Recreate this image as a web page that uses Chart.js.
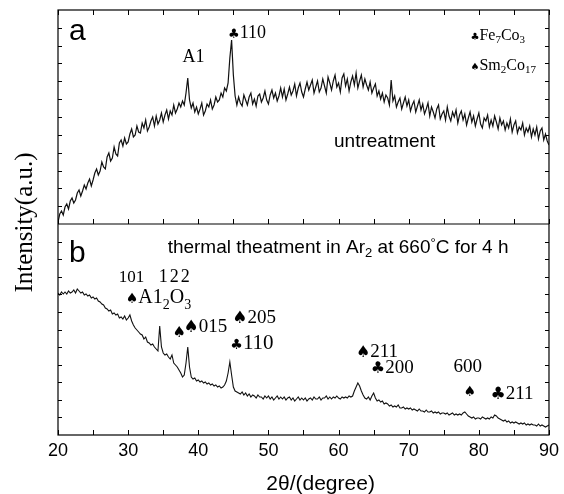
<!DOCTYPE html>
<html><head><meta charset="utf-8">
<script src="https://cdn.jsdelivr.net/npm/chart.js@4.4.1/dist/chart.umd.min.js"></script>
<style>html,body{margin:0;padding:0;background:#fff;}#wrap{width:564px;height:494px;}</style>
</head><body><div id="wrap"><canvas id="c" width="564" height="494"></canvas></div>
<script>
// ---- data (2θ sampling grid: start 20°, step 0.25°) ----
const twoThetaStart = 20;
const twoThetaStep = 0.25;
// (a) untreatment, arbitrary intensity units (four values per degree)
const untreated = [
2,10,13,9, 17,20,15,23, 26,21,24,31, 34,28,33,39, 35,41,45,38,
44,51,55,49, 53,62,57,55, 67,71,63,66, 77,70,68,81, 84,78,86,80,
82,90,95,87, 89,98,92,91, 101,96,104,93, 97,103,107,98, 108,100,104,111,
102,109,114,105, 113,109,119,111, 115,121,117,123, 119,131,146,124, 116,121,112,117,
110,115,121,109, 113,120,117,124, 115,119,127,122, 124,131,127,136, 133,141,166,184,
149,128,119,127, 121,118,129,124, 119,127,131,120, 125,118,128,130, 122,126,133,124,
120,129,134,126, 131,123,128,136, 127,135,124,130, 137,129,133,140, 128,136,141,132,
127,135,142,134, 139,144,131,137, 143,132,136,145, 138,131,147,141, 134,143,149,137,
141,132,146,150, 138,145,133,142, 148,139,151,136, 143,149,137,145, 139,134,142,131,
136,140,128,133, 125,131,122,129, 126,119,144,123, 128,117,122,126, 115,121,127,118,
124,113,119,123, 112,118,124,114, 120,110,115,121, 108,117,112,106, 115,119,105,110,
113,104,117,108, 103,112,107,114, 101,109,113,104, 110,99,106,112, 102,108,98,105,
111,100,96,106, 103,109,97,104, 98,108,102,95, 106,99,103,94, 101,96,105,92,
99,103,91,97, 94,101,89,96, 92,98,87,95, 89,97,85,93, 96,84,90,83,
79
];
// (b) thermal treatment in Ar2 at 660 °C for 4 h
const treated = [
142,140,143,141, 143,141,144,142, 143,145,142,146, 144,142,143,140, 141,139,140,137,
138,136,137,134, 133,131,130,127, 126,124,125,121, 122,120,121,117, 118,116,119,115,
117,120,114,110, 107,105,103,101, 100,96,98,93, 92,90,91,88, 86,84,109,88,
82,80,81,78, 76,80,72,70, 68,65,62,58, 60,72,88,68, 58,56,57,54,
55,53,54,52, 53,51,52,50, 51,49,50,48, 49,47,48,50, 54,62,73,60,
48,44,43,42, 41,43,40,42, 39,41,38,40, 39,37,40,38, 38,36,39,37,
39,36,38,35, 37,39,36,38, 36,38,35,37, 38,35,37,34, 36,38,35,37,
35,37,34,36, 37,35,38,36, 36,38,35,37, 37,39,36,38, 36,38,37,39,
37,36,38,37, 38,37,39,38, 39,44,48,52, 49,44,40,37, 36,38,35,39,
42,37,34,35, 33,34,31,32, 31,29,30,28, 29,28,30,27, 27,28,26,27,
26,27,25,26, 25,24,26,24, 24,23,25,23, 23,24,22,23, 22,23,21,22,
22,21,22,20, 21,22,20,21, 20,21,20,22, 23,21,19,18, 17,18,16,17,
17,16,18,17, 16,17,16,18, 17,20,19,17, 16,15,14,15, 13,14,12,13,
12,13,12,11, 12,11,12,10, 11,10,11,10, 10,9,11,9, 10,9,8,9,
10
];
const xTickLabels = [20, 30, 40, 50, 60, 70, 80, 90];
const xMin = 20, xMax = 90;

// ---- fonts / helpers ----
const SERIF = '"Liberation Serif","Times New Roman",serif';
const SANS = '"Liberation Sans",Arial,sans-serif';
const SYM = '"DejaVu Sans",sans-serif';

const toPoints = arr => arr.map((v, i) => ({ x: twoThetaStart + i * twoThetaStep, y: v }));

// text labels: panel axis, anchor (2θ, intensity), rich segments
const labels = [
  { ax: 'ya', x: 21.56, y: 184, segs: [{ t: 'a', f: '30px ' + SANS }] },
  { ax: 'ya', x: 37.76, y: 162, segs: [{ t: 'A1', f: '18px ' + SERIF }] },
  { ax: 'ya', x: 44.25, y: 186, segs: [{ t: '♣', f: '13px ' + SYM }, { t: '110', f: '18px ' + SERIF }] },
  { ax: 'ya', x: 78.8, y: 184, segs: [{ t: '♣', f: '10px ' + SYM }, { t: 'Fe', f: '16px ' + SERIF }, { t: '7', f: '11px ' + SERIF, dy: 3 }, { t: 'Co', f: '16px ' + SERIF }, { t: '3', f: '11px ' + SERIF, dy: 3 }] },
  { ax: 'ya', x: 78.8, y: 154, segs: [{ t: '♠', f: '10px ' + SYM }, { t: 'Sm', f: '16px ' + SERIF }, { t: '2', f: '11px ' + SERIF, dy: 3 }, { t: 'Co', f: '16px ' + SERIF }, { t: '17', f: '11px ' + SERIF, dy: 3 }] },
  { ax: 'ya', x: 59.35, y: 77, segs: [{ t: 'untreatment', f: '19px ' + SANS }] },

  { ax: 'yb', x: 21.56, y: 173, segs: [{ t: 'b', f: '30px ' + SANS }] },
  { ax: 'yb', x: 35.63, y: 182, segs: [{ t: 'thermal theatment in Ar', f: '19px ' + SANS }, { t: '2', f: '13px ' + SANS, dy: 4 }, { t: ' at 660', f: '19px ' + SANS }, { t: '°', f: '13px ' + SANS, dy: -6 }, { t: 'C for 4 h', f: '19px ' + SANS }] },
  { ax: 'yb', x: 28.66, y: 153, segs: [{ t: '101', f: '17px ' + SERIF }] },
  { ax: 'yb', x: 34.35, y: 153, segs: [{ t: '1', f: '18px ' + SERIF, gap: 2 }, { t: '2', f: '18px ' + SERIF, gap: 2 }, { t: '2', f: '18px ' + SERIF }] },
  { ax: 'yb', x: 29.66, y: 132, segs: [{ t: '♠', f: '14px ' + SYM }, { t: 'A1', f: '20px ' + SERIF }, { t: '2', f: '14px ' + SERIF, dy: 6 }, { t: 'O', f: '20px ' + SERIF }, { t: '3', f: '14px ' + SERIF, dy: 6 }] },
  { ax: 'yb', x: 36.33, y: 98, segs: [{ t: '♠', f: '15px ' + SYM }] },
  { ax: 'yb', x: 37.9, y: 103, segs: [{ t: '♠', f: '17px ' + SYM }, { t: '015', f: '19px ' + SERIF }] },
  { ax: 'yb', x: 44.86, y: 112, segs: [{ t: '♠', f: '17px ' + SYM }, { t: '205', f: '19px ' + SERIF }] },
  { ax: 'yb', x: 44.57, y: 86, segs: [{ t: '♣', f: '14px ' + SYM }, { t: '110', f: '21px ' + SERIF }] },
  { ax: 'yb', x: 62.47, y: 78, segs: [{ t: '♠', f: '16px ' + SYM }, { t: '211', f: '19px ' + SERIF }] },
  { ax: 'yb', x: 64.6, y: 62, segs: [{ t: '♣', f: '16px ' + SYM }, { t: '200', f: '19px ' + SERIF }] },
  { ax: 'yb', x: 76.4, y: 63, segs: [{ t: '600', f: '19px ' + SERIF }] },
  { ax: 'yb', x: 77.8, y: 39, segs: [{ t: '♠', f: '14px ' + SYM }] },
  { ax: 'yb', x: 81.65, y: 36, segs: [{ t: '♣', f: '17px ' + SYM }, { t: '211', f: '19px ' + SERIF }] }
];

function drawRich(ctx, x, y, segs) {
  let cx = x;
  for (const s of segs) {
    ctx.font = s.f;
    ctx.fillText(s.t, cx, y + (s.dy || 0));
    cx += ctx.measureText(s.t).width + (s.gap || 0);
  }
}

const framePlugin = {
  id: 'frame',
  afterDatasetsDraw(chart) {
    const ctx = chart.ctx;
    const a = chart.chartArea;
    const xs = chart.scales.x, ya = chart.scales.ya, yb = chart.scales.yb;
    const mid = ya.getPixelForValue(0);
    ctx.save();
    ctx.strokeStyle = '#000';
    ctx.lineWidth = 1.2;
    ctx.strokeRect(a.left, a.top, a.right - a.left, a.bottom - a.top);
    ctx.beginPath();
    ctx.moveTo(a.left, mid); ctx.lineTo(a.right, mid);
    ctx.stroke();
    // x ticks (inward), every 5°
    ctx.lineWidth = 1;
    ctx.beginPath();
    for (let v = xMin; v <= xMax; v += 5) {
      const px = Math.round(xs.getPixelForValue(v)) + 0.5;
      ctx.moveTo(px, a.top); ctx.lineTo(px, a.top + 5);
      ctx.moveTo(px, mid); ctx.lineTo(px, mid - 5);
      ctx.moveTo(px, a.bottom); ctx.lineTo(px, a.bottom - 5);
    }
    // y minor ticks (inward, both sides)
    const yTick = (scale, lo, hi, n) => {
      for (let k = 1; k < n; k++) {
        const py = Math.round(scale.getPixelForValue(lo + (hi - lo) * k / n)) + 0.5;
        ctx.moveTo(a.left, py); ctx.lineTo(a.left + 4, py);
        ctx.moveTo(a.right, py); ctx.lineTo(a.right - 4, py);
      }
    };
    yTick(ya, 0, 214, 12);
    yTick(yb, 0, 211, 12);
    ctx.stroke();

    // text labels
    ctx.fillStyle = '#000';
    ctx.textBaseline = 'alphabetic';
    ctx.textAlign = 'left';
    for (const L of labels) {
      const sc = chart.scales[L.ax];
      drawRich(ctx, xs.getPixelForValue(L.x), sc.getPixelForValue(L.y), L.segs);
    }
    // axis titles
    ctx.font = '21px ' + SANS;
    ctx.fillText('2θ/(degree)', xs.getPixelForValue(49.7), 490);
    ctx.save();
    ctx.translate(25, (a.top + a.bottom) / 2);
    ctx.rotate(-Math.PI / 2);
    ctx.textAlign = 'center';
    ctx.textBaseline = 'middle';
    ctx.font = '25px ' + SERIF;
    ctx.fillText('Intensity(a.u.)', 0, 0);
    ctx.restore();
    ctx.restore();
  }
};

new Chart(document.getElementById('c'), {
  type: 'line',
  data: {
    datasets: [
      { data: toPoints(untreated), yAxisID: 'ya', borderColor: '#111', borderWidth: 1.2, pointRadius: 0, tension: 0, fill: false },
      { data: toPoints(treated), yAxisID: 'yb', borderColor: '#111', borderWidth: 1.1, pointRadius: 0, tension: 0, fill: false }
    ]
  },
  options: {
    responsive: false,
    animation: false,
    devicePixelRatio: 1,
    layout: { padding: { left: 58, right: 13, top: 10, bottom: 0 } },
    plugins: { legend: { display: false }, tooltip: { enabled: false } },
    scales: {
      x: {
        type: 'linear', position: 'bottom', min: xMin, max: xMax,
        afterFit(s) { s.height = 59; },
        grid: { display: false, drawTicks: false },
        border: { display: false },
        ticks: {
          stepSize: 5, autoSkip: false, maxRotation: 0, padding: 5, color: '#000',
          font: { family: SANS, size: 18 },
          callback: v => xTickLabels.includes(v) ? String(v) : ''
        }
      },
      ya: { type: 'linear', display: false, min: -211, max: 214 },
      yb: { type: 'linear', display: false, min: 0, max: 425 }
    }
  },
  plugins: [framePlugin]
});
</script>
</body></html>
